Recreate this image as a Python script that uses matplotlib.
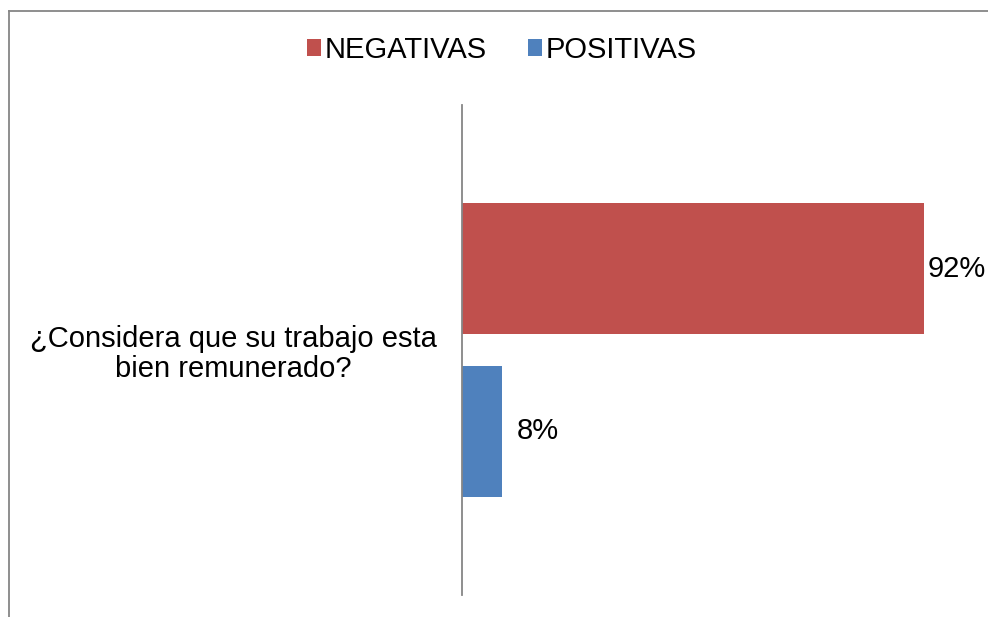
import matplotlib

matplotlib.use("Agg")
import matplotlib.pyplot as plt
from matplotlib.lines import Line2D

plt.rcParams["font.family"] = ["Liberation Sans", "DejaVu Sans"]

# survey answers (percent of respondents)
CATEGORIES = ["¿Considera que su trabajo esta\nbien remunerado?"]
SERIES_NAMES = ["NEGATIVAS", "POSITIVAS"]
NEGATIVAS = [92]
POSITIVAS = [8]

COLORS = {"NEGATIVAS": "#C0504D", "POSITIVAS": "#4F81BD"}
AXIS_GRAY = "#868686"
FS = 21

fig = plt.figure(figsize=(9.88, 6.17), dpi=100, facecolor="white")
ax = fig.add_axes([462 / 988, 22 / 617, 502 / 988, 490 / 617])

bar_h = 0.267
offset = 0.166
series = [("NEGATIVAS", NEGATIVAS, offset, 4), ("POSITIVAS", POSITIVAS, -offset, 15)]
for name, vals, dy, pad_px in series:
    ys = [i + dy for i in range(len(CATEGORIES))]
    bars = ax.barh(ys, vals, height=bar_h, color=COLORS[name], label=name)
    for b, v in zip(bars, vals):
        ax.annotate(
            f"{v}%",
            xy=(b.get_width(), b.get_y() + b.get_height() / 2),
            xytext=(pad_px * 0.72, 0),
            textcoords="offset points",
            ha="left",
            va="center",
            fontsize=FS,
            annotation_clip=False,
        )

ax.set_xlim(0, 100)
ax.set_ylim(-0.5, len(CATEGORIES) - 0.5)
for side in ("top", "right", "bottom"):
    ax.spines[side].set_visible(False)
ax.spines["left"].set_color(AXIS_GRAY)
ax.spines["left"].set_linewidth(1.3)
ax.set_xticks([])
ax.set_yticks(range(len(CATEGORIES)))
ax.set_yticklabels(CATEGORIES, fontsize=FS, multialignment="center", linespacing=1.1)
ax.tick_params(axis="y", length=0, pad=18)

handles, labels = ax.get_legend_handles_labels()
fig.legend(
    handles,
    labels,
    loc="center",
    bbox_to_anchor=(0.508, 1 - 50 / 617),
    ncol=2,
    frameon=False,
    fontsize=FS,
    handlelength=0.5,
    handleheight=0.5,
    handletextpad=0.12,
    columnspacing=1.4,
    borderaxespad=0,
)

# outer frame of the chart area (top and left edges)
fig.add_artist(Line2D([9 / 988, 1], [1 - 11 / 617] * 2, color=AXIS_GRAY, lw=1.3, transform=fig.transFigure))
fig.add_artist(Line2D([9 / 988] * 2, [0, 1 - 11 / 617], color=AXIS_GRAY, lw=1.3, transform=fig.transFigure))

fig.savefig("out.png", dpi=100, facecolor="white")
